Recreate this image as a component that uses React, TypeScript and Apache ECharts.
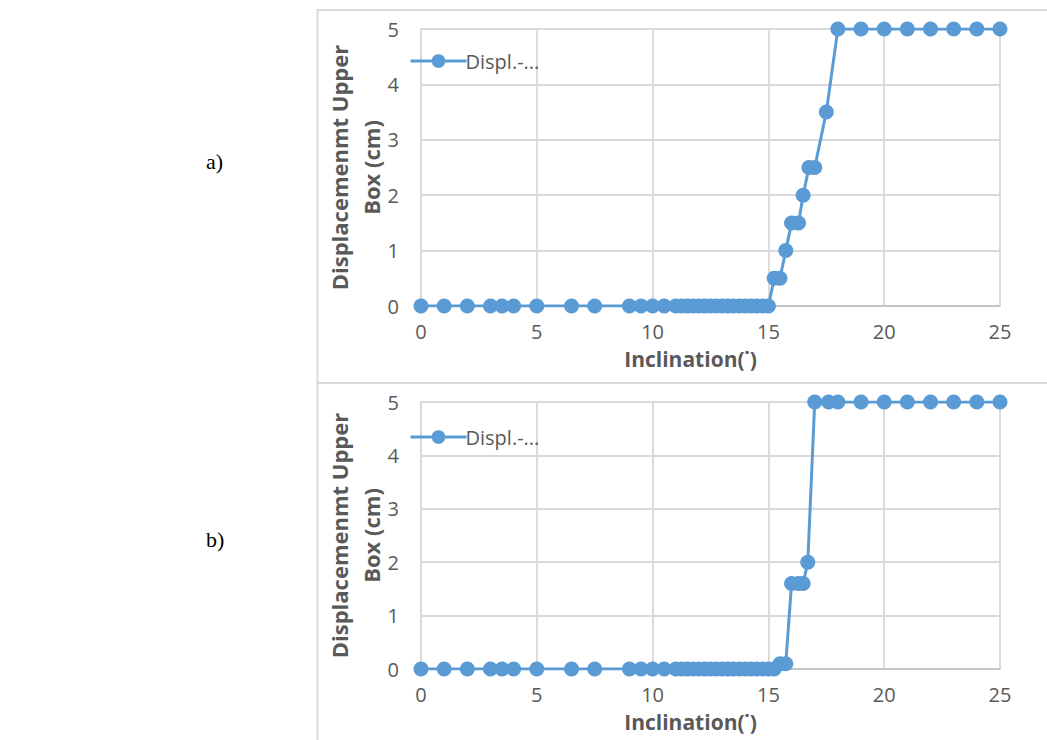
import React, { useEffect, useRef } from "react";
import * as echarts from "echarts";

// Panel a)
const aX = [0, 1, 2, 3, 3.5, 4, 5, 6.5, 7.5, 9, 9.5, 10, 10.5,
  11, 11.25, 11.5, 11.75, 12, 12.25, 12.5, 12.75, 13, 13.25, 13.5, 13.75, 14, 14.25, 14.5, 14.75, 15,
  15.25, 15.5, 15.75, 16, 16.3, 16.5, 16.75, 17, 17.5, 18, 19, 20, 21, 22, 23, 24, 25];
const aY = [0, 0, 0, 0, 0, 0, 0, 0, 0, 0, 0, 0, 0,
  0, 0, 0, 0, 0, 0, 0, 0, 0, 0, 0, 0, 0, 0, 0, 0, 0,
  0.5, 0.5, 1, 1.5, 1.5, 2, 2.5, 2.5, 3.5, 5, 5, 5, 5, 5, 5, 5, 5];

// Panel b)
const bX = [0, 1, 2, 3, 3.5, 4, 5, 6.5, 7.5, 9, 9.5, 10, 10.5,
  11, 11.25, 11.5, 11.75, 12, 12.25, 12.5, 12.75, 13, 13.25, 13.5, 13.75, 14, 14.25, 14.5, 14.75, 15, 15.25,
  15.5, 15.75, 16, 16.3, 16.5, 16.7, 17, 17.6, 18, 19, 20, 21, 22, 23, 24, 25];
const bY = [0, 0, 0, 0, 0, 0, 0, 0, 0, 0, 0, 0, 0,
  0, 0, 0, 0, 0, 0, 0, 0, 0, 0, 0, 0, 0, 0, 0, 0, 0, 0,
  0.1, 0.1, 1.6, 1.6, 1.6, 2, 5, 5, 5, 5, 5, 5, 5, 5, 5, 5];

const seriesName = "Displ.-...";
const xTitle = "Inclination(˙)";
const yTitle = "Displacemenmt Upper\nBox (cm)";
const panelLabels = ["a)", "b)"];

const FONT = "'Open Sans', Lato, 'Liberation Sans', sans-serif";
const BLUE = "#5B9BD5";
const GRAY_TXT = "#595959";
const GRID = "#d9d9d9";

export default function App() {
  const ref = useRef<HTMLDivElement>(null);
  useEffect(() => {
    if (!ref.current) return;
    const chart = echarts.init(ref.current, undefined, { renderer: "svg" });
    const grids = [
      { left: 421, right: 47, top: 29, height: 277 },
      { left: 421, right: 47, top: 402, height: 267 },
    ];
    const mkX = (i: number) => ({
      type: "value",
      gridIndex: i,
      min: 0,
      max: 25,
      interval: 5,
      name: xTitle,
      nameLocation: "middle",
      nameGap: 42,
      nameTextStyle: { fontFamily: FONT, fontSize: 21, fontWeight: "bold", color: GRAY_TXT, padding: [0, 40, 0, 0] },
      axisLine: { show: true, lineStyle: { color: "#bfbfbf", width: 1.5 } },
      axisTick: { show: false },
      axisLabel: { fontFamily: FONT, fontSize: 20, color: GRAY_TXT, margin: 15 },
      splitLine: { show: true, lineStyle: { color: GRID, width: 1.8 } },
    });
    const mkY = (i: number) => ({
      type: "value",
      gridIndex: i,
      min: 0,
      max: 5,
      interval: 1,
      name: yTitle,
      nameLocation: "middle",
      nameGap: 34,
      nameMoveOverlap: false,
      nameTextStyle: { fontFamily: FONT, fontSize: 22, fontWeight: "bold", color: GRAY_TXT, lineHeight: 32 },
      axisLine: { show: true, lineStyle: { color: GRID, width: 1.8 } },
      axisTick: { show: false },
      axisLabel: { fontFamily: FONT, fontSize: 20, color: GRAY_TXT, margin: 22 },
      splitLine: { show: true, lineStyle: { color: GRID, width: 1.8 } },
    });
    const mkSeries = (i: number, xs: number[], ys: number[]) => ({
      type: "line",
      name: seriesName,
      xAxisIndex: i,
      yAxisIndex: i,
      data: xs.map((x, k) => [x, ys[k]]),
      symbol: "circle",
      symbolSize: 15,
      lineStyle: { color: BLUE, width: 3 },
      itemStyle: { color: BLUE },
      z: 3,
    });
    const mkLegend = (top: number) => ({
      left: 404,
      top,
      itemWidth: 56,
      itemHeight: 17,
      itemGap: 4,
      selectedMode: false,
      lineStyle: { width: 3, color: BLUE },
      itemStyle: { color: BLUE },
      textStyle: { fontFamily: FONT, fontSize: 20, color: GRAY_TXT, padding: [0, 0, 0, -6] },
      data: [seriesName],
    });
    chart.setOption({
      animation: false,
      backgroundColor: "#ffffff",
      grid: grids,
      xAxis: [mkX(0), mkX(1)],
      yAxis: [mkY(0), mkY(1)],
      legend: [mkLegend(46), mkLegend(422)],
      series: [mkSeries(0, aX, aY), mkSeries(1, bX, bY)],
      graphic: [
        { type: "rect", silent: true, shape: { x: 317.5, y: 10, width: 760, height: 373 }, style: { fill: "none", stroke: GRID, lineWidth: 2 }, z: -1 },
        { type: "rect", silent: true, shape: { x: 317.5, y: 383, width: 760, height: 400 }, style: { fill: "none", stroke: GRID, lineWidth: 2 }, z: -1 },
        { type: "text", left: 206, top: 150, style: { text: panelLabels[0], fontFamily: "'Liberation Serif', serif", fontSize: 22, fill: "#000" } },
        { type: "text", left: 206, top: 528, style: { text: panelLabels[1], fontFamily: "'Liberation Serif', serif", fontSize: 22, fill: "#000" } },
      ],
    });
    return () => chart.dispose();
  }, []);
  return (
    <div
      ref={ref}
      style={{ position: "fixed", left: 0, top: 0, width: 1047, height: 740, background: "#fff" }}
    />
  );
}
